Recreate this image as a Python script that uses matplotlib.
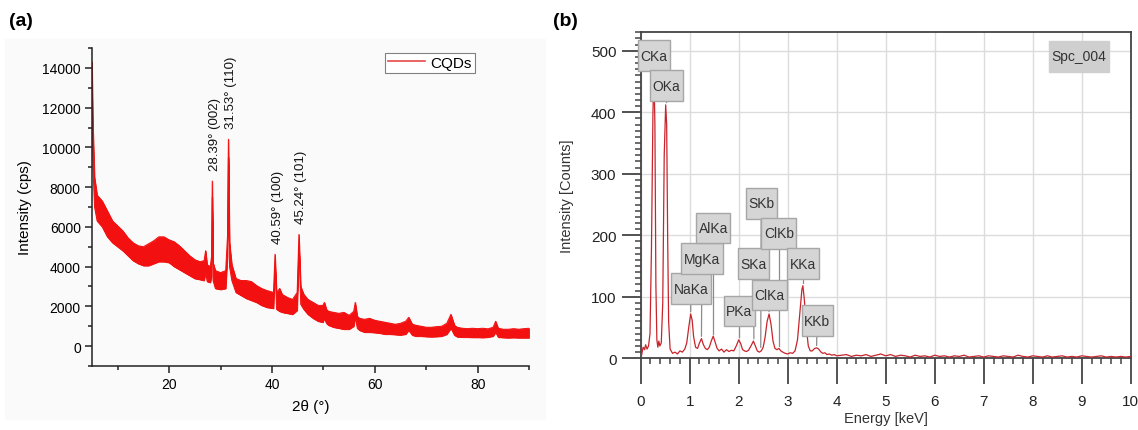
import matplotlib
matplotlib.use('Agg')
import matplotlib.pyplot as plt
from matplotlib.path import Path
from matplotlib.patches import Rectangle
from matplotlib.ticker import MultipleLocator

# ---- (a) XRD pattern of the CQDs: the noisy trace is kept as its upper / lower edge
two_theta = [5.0, 5.2, 5.5, 6, 7, 8, 9, 10, 11, 12, 13, 14, 15, 16, 17, 18, 19, 20,
             21, 22, 23, 24, 25, 26, 26.8, 27.1, 27.4, 28.0, 28.25, 28.39, 28.55,
             29.0, 30.0, 31.0, 31.35, 31.53, 31.75, 32.2, 33, 34, 35, 36, 37, 38,
             39, 40.3, 40.59, 40.9, 41.5, 42, 43, 44, 44.9, 45.24, 45.6, 46.2, 47,
             48, 49, 49.9, 50.2, 50.6, 51, 52, 53, 54, 55, 55.9, 56.2, 56.6, 57, 58,
             59, 60, 61, 62, 63, 64, 65, 66, 66.6, 67.3, 68, 69, 70, 71, 72, 73, 74,
             74.8, 75.5, 76, 77, 78, 79, 80, 81, 82, 83, 83.5, 84, 85, 86, 87, 88,
             89, 90]
xrd_upper = [14300, 11000, 8500, 7600, 7300, 6800, 6300, 6050, 5800, 5450, 5200, 5050,
             5000, 5150, 5300, 5500, 5500, 5350, 5250, 5050, 4800, 4550, 4350, 4250,
             4300, 4800, 4100, 4000, 4500, 8310, 4200, 3800, 3700, 3800, 5500, 10410,
             5200, 4100, 3400, 3300, 3300, 3250, 3050, 2900, 2800, 2700, 4620, 2700,
             2900, 2600, 2450, 2350, 2700, 5620, 3000, 2600, 2350, 2200, 2050, 2050,
             2200, 1850, 1750, 1700, 1650, 1700, 1550, 1750, 2200, 1500, 1400, 1350,
             1400, 1300, 1250, 1200, 1150, 1100, 1150, 1250, 1450, 1100, 1050, 1000,
             950, 950, 980, 1000, 1150, 1600, 1050, 950, 900, 880, 900, 880, 900, 870,
             950, 1250, 900, 850, 850, 880, 850, 880, 900]
xrd_lower = [12000, 9000, 7000, 6300, 6000, 5500, 5200, 5000, 4800, 4550, 4300, 4150,
             4050, 4050, 4150, 4250, 4250, 4200, 4000, 3850, 3700, 3550, 3400, 3350,
             3300, 3700, 3250, 3200, 3500, 7500, 3300, 2900, 2850, 2900, 4500, 9500,
             4000, 3300, 2700, 2550, 2400, 2300, 2200, 2050, 1950, 1900, 4000, 1850,
             1750, 1700, 1650, 1600, 1800, 5000, 2100, 1850, 1600, 1400, 1250, 1200,
             1400, 1150, 1050, 950, 900, 850, 850, 1000, 1450, 900, 800, 700, 700, 680,
             650, 600, 600, 580, 560, 600, 800, 550, 500, 500, 480, 470, 480, 500, 600,
             900, 550, 470, 450, 450, 440, 440, 430, 450, 500, 700, 450, 430, 420, 430,
             420, 420, 420]
peak_pos = [28.39, 31.53, 40.59, 45.24]
peak_height = [8310, 10410, 4620, 5620]
peak_labels = ['28.39° (002)', '31.53° (110)', '40.59° (100)', '45.24° (101)']

# ---- (b) EDS spectrum
energy = [0.02, 0.05, 0.08, 0.10, 0.13, 0.16, 0.19, 0.22, 0.25, 0.27, 0.29, 0.31, 0.33,
          0.35, 0.37, 0.39, 0.42, 0.45, 0.48, 0.51, 0.53, 0.55, 0.57, 0.60, 0.65, 0.70,
          0.75, 0.80, 0.85, 0.90, 0.94, 0.98, 1.02, 1.05, 1.08, 1.12, 1.16, 1.20, 1.24,
          1.28, 1.32, 1.36, 1.40, 1.44, 1.48, 1.52, 1.56, 1.60, 1.65, 1.70, 1.75, 1.80,
          1.85, 1.90, 1.95, 2.00, 2.04, 2.08, 2.12, 2.16, 2.20, 2.25, 2.30, 2.34, 2.38,
          2.42, 2.46, 2.50, 2.54, 2.58, 2.62, 2.66, 2.70, 2.74, 2.78, 2.82, 2.86, 2.90,
          2.95, 3.00, 3.05, 3.10, 3.15, 3.20, 3.25, 3.29, 3.31, 3.34, 3.38, 3.42, 3.46,
          3.50, 3.55, 3.59, 3.63, 3.68, 3.72, 3.76, 3.80, 3.85, 3.90, 3.95, 4.00,
          4.1, 4.2, 4.3, 4.4, 4.5, 4.6, 4.7, 4.8, 4.9, 5.0, 5.1, 5.2, 5.3, 5.4, 5.5,
          5.6, 5.7, 5.8, 5.9, 6.0, 6.1, 6.2, 6.3, 6.4, 6.5, 6.6, 6.7, 6.8, 6.9, 7.0,
          7.1, 7.2, 7.3, 7.4, 7.5, 7.6, 7.7, 7.8, 7.9, 8.0, 8.1, 8.2, 8.3, 8.4, 8.5,
          8.6, 8.7, 8.8, 8.9, 9.0, 9.1, 9.2, 9.3, 9.4, 9.5, 9.6, 9.7, 9.8, 9.9, 10.0]
counts = [6, 18, 14, 22, 15, 20, 40, 180, 400, 465, 380, 120, 30,
          18, 28, 20, 25, 90, 330, 412, 380, 200, 60, 15, 8, 10,
          7, 12, 10, 15, 25, 50, 72, 62, 35, 18, 16, 25, 32,
          22, 16, 14, 18, 28, 36, 26, 16, 12, 15, 10, 14, 11,
          13, 12, 20, 30, 24, 14, 12, 11, 13, 20, 28, 20, 12,
          10, 12, 18, 35, 60, 72, 55, 28, 16, 14, 16, 12, 10,
          8, 7, 9, 8, 12, 30, 75, 112, 118, 95, 50, 20, 12,
          12, 16, 17, 15, 10, 8, 9, 6, 7, 5, 6, 4,
          5, 6, 3, 5, 4, 6, 3, 5, 7, 4, 6, 3, 5, 4, 2,
          5, 3, 4, 2, 5, 3, 4, 2, 4, 3, 5, 2, 3, 4, 2,
          4, 3, 2, 4, 3, 2, 5, 3, 2, 4, 3, 2, 4, 2, 3,
          4, 2, 3, 2, 4, 3, 2, 3, 4, 2, 3, 2, 3, 2, 3]
eds_labels = ['CKa', 'OKa', 'NaKa', 'MgKa', 'AlKa', 'PKa', 'SKa', 'SKb', 'ClKa', 'ClKb',
              'KKa', 'KKb']
eds_line_kev = [0.27, 0.52, 1.02, 1.24, 1.48, 2.01, 2.31, 2.45, 2.62, 2.82, 3.31, 3.59]
eds_line_cnt = [465, 412, 72, 32, 36, 30, 28, 14, 72, 16, 118, 17]
# where the callout boxes sit
eds_box = [(0.27, 492), (0.52, 443), (1.03, 113), (1.25, 162), (1.48, 212), (2.01, 77),
           (2.30, 154), (2.46, 252), (2.63, 103), (2.82, 203), (3.31, 154), (3.60, 61)]
spectrum_name = 'Spc_004'

narrow = ['Liberation Sans Narrow', 'Liberation Sans', 'DejaVu Sans']
plt.rcParams['font.family'] = ['Liberation Sans', 'DejaVu Sans']

fig = plt.figure(figsize=(11.38, 4.31), dpi=100)
fig.patches.append(Rectangle((5 / 1138, 1 - 420 / 431), 540 / 1138, 380 / 431,
                             transform=fig.transFigure, color='#fafafa', zorder=-5))

# ---------------- (a)
red = '#f21010'
ax1 = fig.add_axes([0.0808, 0.1485, 0.3841, 0.7378])
ax1.set_facecolor('none')
ax1.fill_between(two_theta, xrd_lower, xrd_upper, color=red, lw=0.6)
ax1.plot(two_theta, xrd_upper, color=red, lw=0.7, label='CQDs')
ax1.plot(two_theta, xrd_lower, color=red, lw=0.7)
for p, h, t in zip(peak_pos, peak_height, peak_labels):
    ax1.text(p + 0.5, h + 550, t, rotation=90, ha='center', va='bottom', fontsize=9.5,
             color='#111')
ax1.set_xlim(5, 90)
ax1.set_ylim(-1000, 15000)
ax1.xaxis.set_major_locator(MultipleLocator(20))
ax1.xaxis.set_minor_locator(MultipleLocator(10))
ax1.yaxis.set_major_locator(MultipleLocator(2000))
ax1.yaxis.set_minor_locator(MultipleLocator(1000))
for s in ['top', 'right']:
    ax1.spines[s].set_visible(False)
for s in ['left', 'bottom']:
    ax1.spines[s].set_linewidth(1.1)
    ax1.spines[s].set_color('#222')
ax1.tick_params(which='major', length=5, width=1.1, labelsize=10, color='#222', pad=3)
ax1.tick_params(which='minor', length=3, width=1.1, color='#222')
ax1.set_xlabel('2θ (°)', fontsize=11, labelpad=6)
ax1.set_ylabel('Intensity (cps)', fontsize=11, labelpad=7)
leg = ax1.legend(loc='upper left', bbox_to_anchor=(0.67, 0.985), fontsize=11,
                 fancybox=False, edgecolor='#808080', framealpha=1, borderpad=0.2,
                 handlelength=2.4, handletextpad=0.4, borderaxespad=0)
leg.get_frame().set_linewidth(0.8)
leg.get_lines()[0].set_color('#e84848')
leg.get_lines()[0].set_linewidth(1.2)
fig.text(0.008, 0.94, '(a)', fontsize=14, fontweight='bold')

# ---------------- (b)
ax2 = fig.add_axes([0.563, 0.1664, 0.4306, 0.7563])
ax2.plot(energy, counts, color='#c8242c', lw=0.9, zorder=4)
ax2.set_xlim(0, 10)
ax2.set_ylim(0, 530)
ax2.xaxis.set_major_locator(MultipleLocator(1))
ax2.xaxis.set_minor_locator(MultipleLocator(0.2))
ax2.yaxis.set_major_locator(MultipleLocator(100))
ax2.yaxis.set_minor_locator(MultipleLocator(10))
ax2.grid(which='major', color='#dcdcdc', lw=1)
ax2.set_axisbelow(True)
for s in ax2.spines.values():
    s.set_color('#444')
    s.set_linewidth(1.3)
ax2.tick_params(which='major', length=14, width=1.3, color='#444', labelcolor='#222',
                labelsize=11)
ax2.tick_params(axis='x', which='major', length=19, pad=7)
ax2.tick_params(which='minor', length=4.5, width=1.1, color='#444')
for lab in ax2.get_xticklabels() + ax2.get_yticklabels():
    lab.set_family(narrow)


def callout_box(x0, y0, width, height, mutation_size):
    px, py = 0.18 * mutation_size, 0.6 * mutation_size
    return Path([(x0 - px, y0 - py), (x0 + width + px, y0 - py),
                 (x0 + width + px, y0 + height + py), (x0 - px, y0 + height + py),
                 (x0 - px, y0 - py)], closed=True)


box_style = dict(boxstyle=callout_box, facecolor='#d5d5d5', edgecolor='#a6a6a6', lw=1)
for t, ex, ey, (bx, by) in zip(eds_labels, eds_line_kev, eds_line_cnt, eds_box):
    ax2.plot([bx, ex], [by, ey + 4], color='#8c8c8c', lw=0.9, zorder=3)
    ax2.text(bx, by, t, ha='center', va='center', fontsize=10, color='#333',
             family=narrow, bbox=box_style, zorder=6)
ax2.text(8.95, 491, spectrum_name, ha='center', va='center', fontsize=10,
         color='#333', family=narrow, zorder=6,
         bbox=dict(boxstyle=callout_box, facecolor='#cfcfcf', edgecolor='#cfcfcf'))
ax2.set_xlabel('Energy [keV]', fontsize=10.5, color='#333', family=narrow, labelpad=2)
ax2.set_ylabel('Intensity [Counts]', fontsize=10.5, color='#333', labelpad=12)
fig.text(0.486, 0.94, '(b)', fontsize=14, fontweight='bold')

fig.savefig('out.png', dpi=100)
